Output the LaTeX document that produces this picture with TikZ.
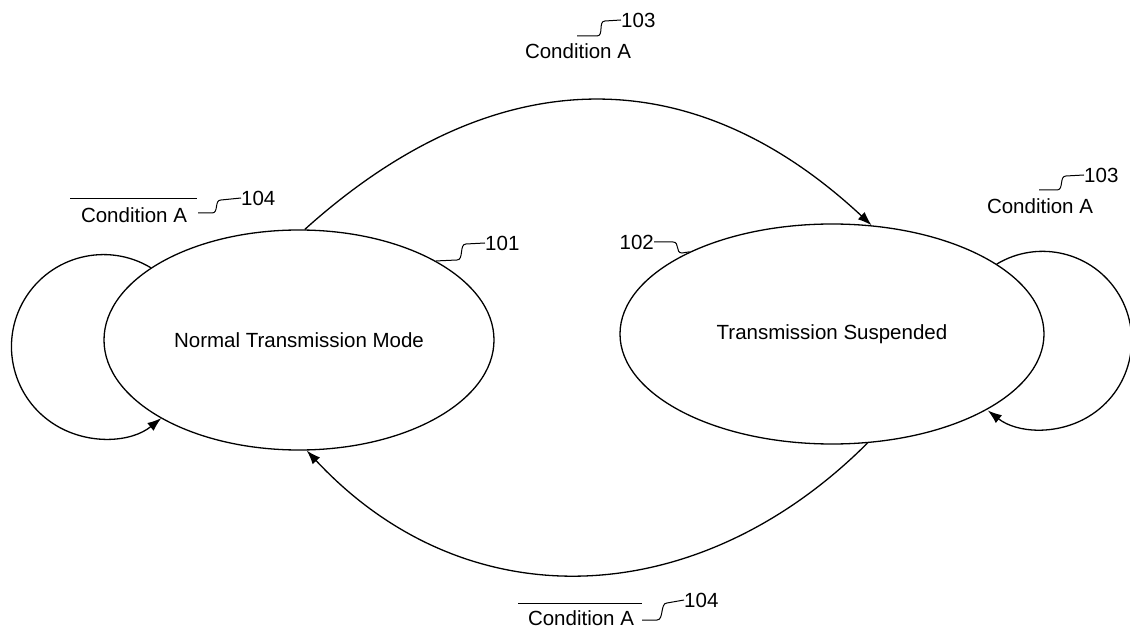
\documentclass[tikz,border=0pt]{standalone}
\usepackage{fontspec}
\setmainfont{Liberation Sans}
\usetikzlibrary{shapes.geometric,arrows.meta}
\begin{document}
\begin{tikzpicture}[x=1pt,y=1pt,
  every node/.style={font=\fontsize{20.5}{24}\selectfont},
  state/.style={ellipse,draw,line width=1.3pt,inner sep=0pt},
  conn/.style={line width=1.3pt,-{Latex[length=14pt,width=10pt]}},
  lead/.style={line width=1pt},
  lbl/.style={inner sep=0pt}]
\useasboundingbox (0,0) rectangle (1130,630);
% states
\node[state,minimum width=390pt,minimum height=220pt] (L) at (299,290) {Normal Transmission Mode};
\node[state,minimum width=424pt,minimum height=220pt] (R) at (832,296) {Transmission Suspended};
% transitions
\draw[conn] (L.87) to[out=42,in=137,looseness=1.13] (R.70);
\draw[conn] (R.-72) to[out=225,in=313,looseness=1.08] (L.-86);
\draw[conn] (L.154) arc[start angle=59,end angle=309,radius=92pt];
\draw[conn] (R.23) arc[start angle=121,end angle=-128,radius=89pt];
% top label
\node[lbl] (cA1) at (578,579) {Condition A};
\node[lbl,anchor=west] (n103a) at (621,610) {103};
\coordinate (t1) at (577,594);
\coordinate (t2) at (597,594);
\coordinate (t3) at (605,609);
\draw[lead] (t1) -- (t2) .. controls +(7,0) and +(-7,0) .. (t3) -- (n103a.west);
% left label
\node[lbl] (cA2) at (134,415) {Condition A};
\coordinate (o2a) at (70,431);
\coordinate (o2b) at (197,431);
\draw[lead] (o2a) -- (o2b);
\node[lbl,anchor=west] (n104a) at (241,432) {104};
\coordinate (u1) at (198,417);
\coordinate (u2) at (212,417);
\coordinate (u3) at (221,430);
\draw[lead] (u1) -- (u2) .. controls +(7,0) and +(-7,0) .. (u3) -- (n104a.west);
% 101
\node[lbl,anchor=west] (n101) at (485,387) {101};
\coordinate (v2) at (457,370);
\coordinate (v3) at (466,386);
\draw[lead] (L.30) -- (v2) .. controls +(7,0) and +(-7,0) .. (v3) -- (n101.west);
% 102
\node[lbl,anchor=east] (n102) at (654,388) {102};
\coordinate (w2) at (673,388);
\coordinate (w3) at (682,377);
\draw[lead] (n102.east) -- (w2) .. controls +(7,0) and +(-7,0) .. (w3) -- (R.150);
% right label
\node[lbl] (cA3) at (1040,424) {Condition A};
\node[lbl,anchor=west] (n103b) at (1084,455) {103};
\coordinate (x1) at (1039,440);
\coordinate (x2) at (1057,440);
\coordinate (x3) at (1066,454);
\draw[lead] (x1) -- (x2) .. controls +(7,0) and +(-7,0) .. (x3) -- (n103b.west);
% bottom label
\node[lbl] (cA4) at (581,12) {Condition A};
\coordinate (o4a) at (518,27);
\coordinate (o4b) at (642,27);
\draw[lead] (o4a) -- (o4b);
\node[lbl,anchor=west] (n104b) at (684,30) {104};
\coordinate (y1) at (642,10);
\coordinate (y2) at (657,10);
\coordinate (y3) at (667,27);
\draw[lead] (y1) -- (y2) .. controls +(7,0) and +(-7,0) .. (y3) -- (n104b.west);
\end{tikzpicture}
\end{document}
